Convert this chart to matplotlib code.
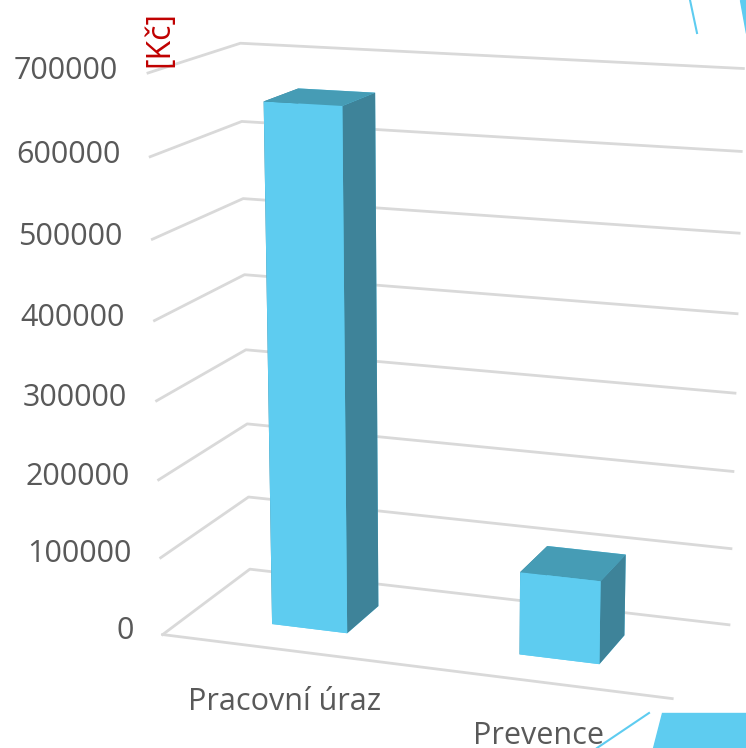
import matplotlib
matplotlib.use("Agg")
import matplotlib.pyplot as plt
from matplotlib.patches import Polygon
from matplotlib.lines import Line2D
import numpy as np

# Data
categories = ["Pracovní úraz", "Prevence"]
values = [660000, 105000]
z_ticks = [0, 100000, 200000, 300000, 400000, 500000, 600000, 700000]
unit_label = "[Kč]"

# Colours
front_col = "#5ECCF0"
top_col = "#469CB5"
side_col = "#3E8399"
grid_col = "#D9D9D9"
text_col = "#595959"

plt.rcParams["font.family"] = ["Open Sans", "DejaVu Sans"]

W, H = 746, 748
fig = plt.figure(figsize=(W / 100, H / 100), dpi=100)

cx, cy, s = 0.586, 0.509, 1.0
ax = fig.add_axes([cx - s / 2, cy - s / 2, s, s], projection="3d", computed_zorder=False)
ax.set_proj_type("persp", focal_length=0.7)
ax.view_init(elev=14.2, azim=-70.4)
ax.set_xlim(0, 2)
ax.set_ylim(0, 1)
ax.set_zlim(0, 700000)
ax.set_box_aspect((1.025, 0.425, 1.1), zoom=1.065)
ax.set_axis_off()

# grid on left wall and back wall
for z in z_ticks:
    ax.plot([0, 0, 2], [0, 1, 1], [z, z, z], color=grid_col, lw=2, zorder=1)
# front edge of floor
ax.plot([0, 2], [0, 0], [0, 0], color=grid_col, lw=2, zorder=1)

# bars
bw, y0, bd = 0.31, 0.3, 0.4
xs = np.arange(len(values)) + 0.5 - bw / 2
face_cols = []
for v in values:
    # -z, +z, -y, +y, -x, +x
    face_cols += [front_col, top_col, front_col, front_col, side_col, side_col]
ax.bar3d(xs, [y0] * len(values), [0] * len(values), bw, bd, values,
         color=face_cols, shade=False, linewidth=0, zorder=2)

# tick labels
for z in z_ticks:
    ax.text(-0.12, 0, z, f"{z}", ha="right", va="center", fontsize=22, color=text_col)

# category labels
for i, c in enumerate(categories):
    ax.text(i + 0.5, 0, -68000, c, ha="center", va="center", fontsize=22, color=text_col)

fig.text(160 / W, 1 - 39 / H, unit_label, rotation=90, ha="center", va="center",
         fontsize=23, color="#C00000")

# slide decorations
def px(x, y):
    return (x / W, 1 - y / H)

fig.patches.append(Polygon([px(662, 713), px(746, 713), px(746, 748), px(653, 748)],
                           closed=True, transform=fig.transFigure, color="#5ECCF0"))
fig.patches.append(Polygon([px(740, 0), px(746, 0), px(746, 33)],
                           closed=True, transform=fig.transFigure, color="#5ECCF0"))
fig.lines.append(Line2D([690 / W, 697 / W], [1, 1 - 33 / H], transform=fig.transFigure,
                        color="#5ECCF0", lw=1.5))
fig.lines.append(Line2D([649 / W, 597 / W], [1 - 713 / H, 0], transform=fig.transFigure,
                        color="#5ECCF0", lw=1.5))

fig.savefig("out.png", dpi=100)
